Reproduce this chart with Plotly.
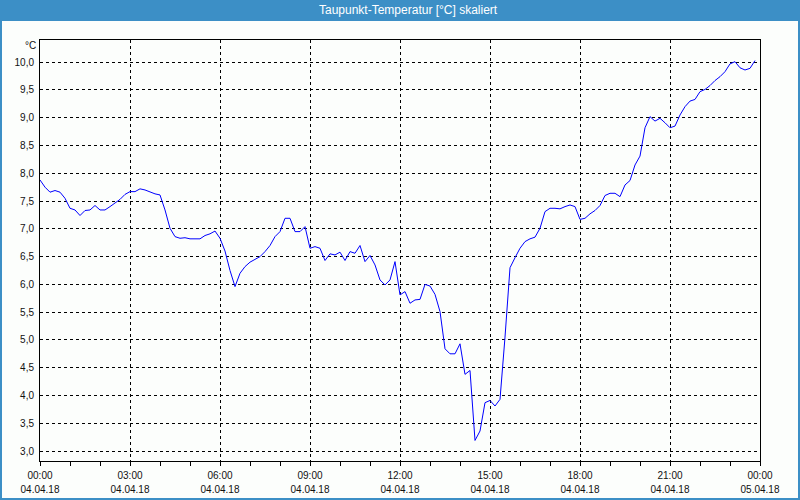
import pandas as pd
import plotly.graph_objects as go

# --- data ---
start_time = "2018-04-04 00:00"
interval = "10min"
dew_point = [
    7.88, 7.75, 7.66, 7.69, 7.66, 7.55, 7.37, 7.34, 7.24, 7.33,
    7.34, 7.42, 7.34, 7.34, 7.40, 7.46, 7.53, 7.62, 7.67, 7.67,
    7.72, 7.70, 7.66, 7.63, 7.61, 7.34, 7.01, 6.86, 6.83, 6.84,
    6.82, 6.82, 6.82, 6.88, 6.91, 6.96, 6.83, 6.60, 6.25, 5.96,
    6.20, 6.32, 6.40, 6.45, 6.50, 6.59, 6.70, 6.86, 6.95, 7.19,
    7.19, 6.95, 6.95, 7.04, 6.65, 6.68, 6.65, 6.43, 6.55, 6.53,
    6.58, 6.43, 6.59, 6.56, 6.70, 6.41, 6.52, 6.35, 6.08, 5.99,
    6.08, 6.41, 5.81, 5.87, 5.66, 5.72, 5.73, 6.00, 5.97, 5.82,
    5.51, 4.84, 4.75, 4.75, 4.93, 4.38, 4.45, 3.19, 3.36, 3.87,
    3.91, 3.81, 3.93, 5.05, 6.30, 6.48, 6.65, 6.77, 6.82, 6.85,
    7.01, 7.31, 7.37, 7.37, 7.36, 7.40, 7.43, 7.40, 7.17, 7.19,
    7.27, 7.33, 7.42, 7.60, 7.64, 7.64, 7.58, 7.79, 7.87, 8.15,
    8.31, 8.82, 9.02, 8.94, 8.99, 8.91, 8.82, 8.85, 9.05, 9.20,
    9.30, 9.33, 9.47, 9.51, 9.58, 9.67, 9.74, 9.83, 9.97, 10.01,
    9.90, 9.86, 9.89, 10.03,
]
times = pd.date_range(start_time, periods=len(dew_point), freq=interval)

x_tick_times = pd.date_range("2018-04-04 00:00", "2018-04-05 00:00", freq="3h")
x_time_labels = [t.strftime("%H:%M") for t in x_tick_times]
x_date_labels = [t.strftime("%d.%m.%y") for t in x_tick_times]
x_minor_times = pd.date_range("2018-04-04 00:00", "2018-04-05 00:00", freq="1h")
y_tick_vals = [3.0, 3.5, 4.0, 4.5, 5.0, 5.5, 6.0, 6.5, 7.0, 7.5, 8.0, 8.5, 9.0, 9.5, 10.0]
y_tick_labels = [f"{v:.1f}".replace(".", ",") for v in y_tick_vals]

title_text = "Taupunkt-Temperatur [°C] skaliert"
unit_text = "°C"

# --- figure ---
BLUE = "#3c8fc6"
BG = "#fcfefc"
FONT = "Liberation Sans"
TXT = "#111111"

fig = go.Figure()
fig.add_trace(go.Scatter(
    x=times, y=dew_point, mode="lines",
    line=dict(color="#0000ff", width=1), showlegend=False, hoverinfo="x+y",
))
# invisible companion trace so the second (date-label) axis is drawn
fig.add_trace(go.Scatter(
    x=times, y=dew_point, xaxis="x2", mode="lines",
    line=dict(color="rgba(0,0,0,0)", width=0), showlegend=False, hoverinfo="skip",
))

# pixel helpers for paper coords (plot area x 40..760, y 40..461)
L, R, T, B = 40, 760, 40, 461
def px(x):
    return (x - L) / (R - L)
def py(y):
    return (B - y) / (B - T)

fig.update_layout(
    width=800, height=500,
    margin=dict(l=L, r=800 - R, t=T, b=500 - B),
    paper_bgcolor=BLUE,
    plot_bgcolor=BG,
    font=dict(family=FONT, size=10, color=TXT),
    shapes=[
        dict(type="rect", xref="paper", yref="paper", layer="below",
             x0=px(2), x1=px(798), y0=py(498), y1=py(21),
             fillcolor=BG, line=dict(width=0)),
    ],
    annotations=[
        dict(text=title_text, xref="paper", yref="paper",
             x=px(408), y=py(10), xanchor="center", yanchor="middle",
             showarrow=False, font=dict(family=FONT, size=12, color="white")),
        dict(text=unit_text, xref="paper", yref="paper",
             x=px(38), y=py(45), xanchor="right", yanchor="middle",
             showarrow=False, font=dict(family=FONT, size=10, color=TXT)),
    ],
    xaxis=dict(
        type="date",
        range=[x_tick_times[0], x_tick_times[-1]],
        tickmode="array", tickvals=x_tick_times, ticktext=x_time_labels,
        ticks="outside", ticklen=4, tickcolor="black", tickwidth=1,
        ticklabelstandoff=1,
        minor=dict(tickmode="array", tickvals=x_minor_times, ticks="outside",
                   ticklen=4, tickcolor="black", showgrid=False),
        showgrid=True, gridcolor="black", gridwidth=1, griddash="3px,3px",
        showline=True, linecolor="black", linewidth=1, mirror=True,
        zeroline=False, fixedrange=True, automargin=False,
    ),
    xaxis2=dict(
        type="date", overlaying="x", matches="x", anchor="y", side="bottom",
        tickmode="array", tickvals=x_tick_times, ticktext=x_date_labels,
        ticks="", ticklabelstandoff=21,
        showgrid=False, showline=False, zeroline=False,
        fixedrange=True, automargin=False,
    ),
    yaxis=dict(
        range=[2.82, 10.40],
        tickmode="array", tickvals=y_tick_vals, ticktext=y_tick_labels,
        ticks="", ticklabelstandoff=3,
        showgrid=True, gridcolor="black", gridwidth=1, griddash="3px,3px",
        showline=True, linecolor="black", linewidth=1, mirror=True,
        zeroline=False, fixedrange=True, automargin=False,
    ),
)

fig.write_html("out.html")
